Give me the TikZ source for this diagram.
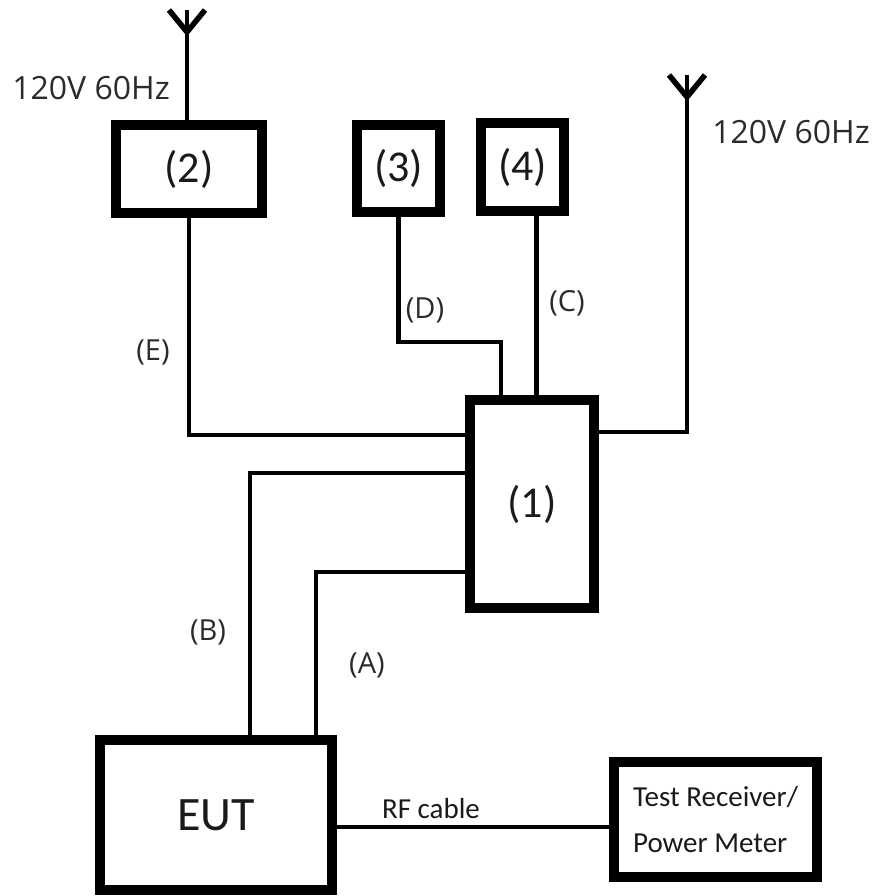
\documentclass[tikz,border=0pt]{standalone}
\usepackage{fontspec}
\setmainfont{Carlito}
\newfontfamily\tagfont{Open Sans}
\usetikzlibrary{positioning}
\definecolor{ink}{HTML}{1A1A1A}
\definecolor{tagink}{HTML}{2B2B2B}

\begin{document}
\begin{tikzpicture}[x=1pt,y=-1pt,
  box/.style={draw,line width=10pt,inner sep=0pt,text=ink},
  wire/.style={line width=4.5pt},
  prong/.style={line width=5.5pt},
  tag/.style={font=\tagfont\fontsize{29}{32}\selectfont,text=tagink,inner sep=0pt},
  mains/.style={font=\tagfont\fontsize{32}{36}\selectfont,text=tagink,inner sep=0pt}]
  \useasboundingbox (0,0) rectangle (881,896);

  % units
  \node[box,minimum width=124pt,minimum height=208pt,font=\fontsize{44}{48}\selectfont] (u1) at (532,504) {(1)};
  \node[box,minimum width=146pt,minimum height=88pt,font=\fontsize{44}{48}\selectfont] (u2) at (189,169) {(2)};
  \node[box,minimum width=83pt,minimum height=87pt,font=\fontsize{44}{48}\selectfont] (u3) at (398.5,168.5) {(3)};
  \node[box,minimum width=83pt,minimum height=88pt,font=\fontsize{44}{48}\selectfont] (u4) at (522.5,167) {(4)};
  \node[box,minimum width=232pt,minimum height=150pt,font=\fontsize{48}{52}\selectfont] (eut) at (216,815) {EUT};
  \node[box,minimum width=203pt,minimum height=115pt,align=left,font=\fontsize{29}{46}\selectfont] (meter) at (715.5,819.5) {Test Receiver/\\Power Meter};

  % antennas
  \coordinate (antL) at (187,10);
  \coordinate (antR) at (687,75);
  \foreach \ant in {antL, antR} {
    \draw[prong] ([yshift=-22pt]\ant) -- ([xshift=-18pt]\ant);
    \draw[prong] ([yshift=-22pt]\ant) -- ([xshift=18pt]\ant);
  }
  \draw[wire] (antL) -- (antL |- u2.north);
  \draw[wire] ([yshift=-37pt]u1.north east) -| (antR);

  % cables
  \draw[wire] (u2.south) |- ([yshift=-40pt]u1.north west);
  \draw[wire] (u3.south) -- ++(0,125) -| ([xshift=-31pt]u1.north);
  \draw[wire] ([xshift=14pt]u4.south) -- ([xshift=14pt]u4.south |- u1.north);
  \draw[wire] ([xshift=34pt]eut.north) |- ([yshift=-78pt]u1.north west);
  \draw[wire] ([xshift=100pt]eut.north) |- ([yshift=-177pt]u1.north west);
  \draw[wire] ([yshift=-12pt]eut.east) -- ([yshift=-12pt]eut.east -| meter.west);

  % labels
  \node[mains] (mainsL) at (91,88) {120V 60Hz};
  \node[mains] (mainsR) at (791,132) {120V 60Hz};
  \node[tag] (tagE) at (153,352) {(E)};
  \node[tag] (tagD) at (425,310) {(D)};
  \node[tag] (tagC) at (567,303) {(C)};
  \node[tag] (tagB) at (208,632) {(B)};
  \node[tag] (tagA) at (367,665) {(A)};
  \node[font=\fontsize{29}{32}\selectfont,text=ink,inner sep=0pt] (rf) at (431,809) {RF cable};
\end{tikzpicture}
\end{document}
